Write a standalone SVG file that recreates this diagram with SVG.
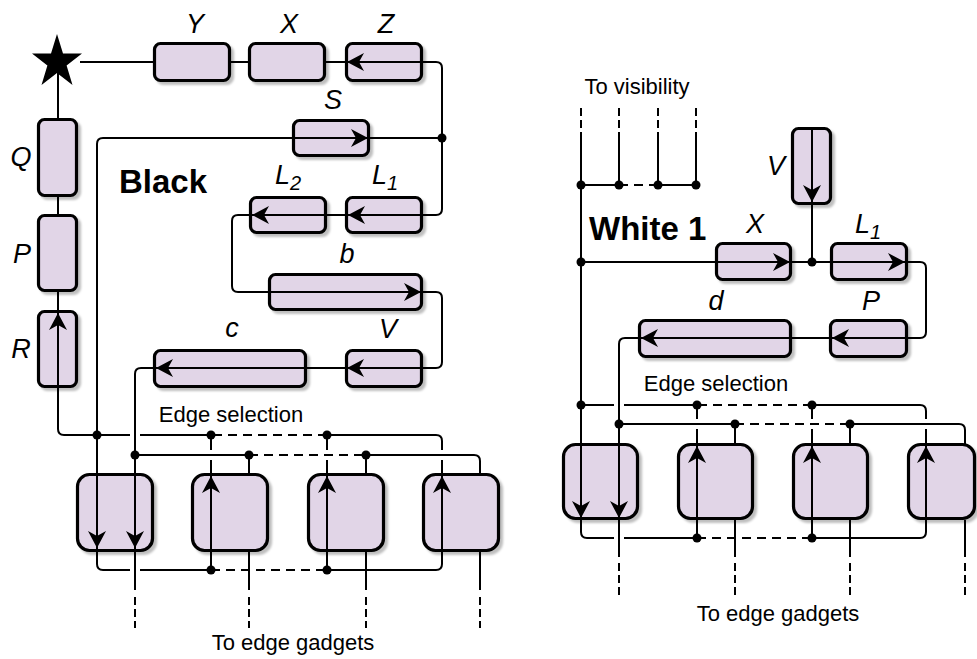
<svg xmlns="http://www.w3.org/2000/svg" width="977" height="659" viewBox="0 0 977 659">
<defs>
<filter id="sh" x="-20%" y="-20%" width="150%" height="150%">
<feDropShadow dx="3" dy="3" stdDeviation="1.2" flood-color="#000" flood-opacity="0.25"/>
</filter>
<path id="ah" d="M0,0 L-17,-9 L-12,0 L-17,9 Z" fill="#000"/>
<circle id="dot" r="4.5" fill="#000"/>
</defs>
<style>
.box{fill:#e1d5e7;stroke:#000;stroke-width:3.2;filter:url(#sh)}
.ln{fill:none;stroke:#000;stroke-width:2}
.dash{fill:none;stroke:#000;stroke-width:2;stroke-dasharray:9 6}
.dsh{fill:none;stroke:#000;stroke-width:2;stroke-dasharray:8 4}
.lbl{font-family:"Liberation Sans",Arial,sans-serif;font-style:italic;font-size:27px;fill:#000}
.txt{font-family:"Liberation Sans",Arial,sans-serif;font-size:22px;fill:#000}
.ttl{font-family:"Liberation Sans",Arial,sans-serif;font-weight:bold;font-size:33px;fill:#000}
</style>
<rect width="977" height="659" fill="#fff"/>

<!-- Left: Black -->
<g id="star"><polygon points="57,34 63,53.5 82,53.5 66.6,65.5 72.5,85 57,73 41.5,85 47.4,65.5 32,53.5 51,53.5" fill="#000"/></g>
<g id="nY"><rect class="box" x="154.5" y="43.5" width="75" height="37" rx="6"/><text class="lbl" x="195" y="33" text-anchor="middle">Y</text></g>
<g id="nX"><rect class="box" x="249.5" y="43.5" width="75" height="37" rx="6"/><text class="lbl" x="289" y="33" text-anchor="middle">X</text></g>
<g id="nZ"><rect class="box" x="346.5" y="43.5" width="75" height="37" rx="6"/><text class="lbl" x="386" y="33" text-anchor="middle">Z</text></g>
<g id="nS"><rect class="box" x="293.5" y="120.5" width="75" height="35" rx="6"/><text class="lbl" x="333" y="109" text-anchor="middle">S</text></g>
<g id="nL2"><rect class="box" x="250.5" y="197.5" width="75" height="35" rx="6"/><text class="lbl" x="275" y="184">L<tspan font-size="20" dy="6">2</tspan></text></g>
<g id="nL1"><rect class="box" x="346.5" y="197.5" width="75" height="35" rx="6"/><text class="lbl" x="372" y="184">L<tspan font-size="20" dy="6">1</tspan></text></g>
<g id="nb"><rect class="box" x="269.5" y="274.5" width="152" height="35" rx="6"/><text class="lbl" x="347" y="263" text-anchor="middle">b</text></g>
<g id="nV"><rect class="box" x="346.5" y="350.5" width="75" height="36" rx="6"/><text class="lbl" x="388" y="338" text-anchor="middle">V</text></g>
<g id="nc"><rect class="box" x="154.5" y="350.5" width="151" height="36" rx="6"/><text class="lbl" x="232" y="337" text-anchor="middle">c</text></g>
<g id="nQ"><rect class="box" x="38.5" y="119.5" width="38" height="76" rx="6"/><text class="lbl" x="21" y="166" text-anchor="middle">Q</text></g>
<g id="nP"><rect class="box" x="38.5" y="215.5" width="38" height="75" rx="6"/><text class="lbl" x="22" y="263" text-anchor="middle">P</text></g>
<g id="nR"><rect class="box" x="38.5" y="311.5" width="38" height="75" rx="6"/><text class="lbl" x="21" y="358" text-anchor="middle">R</text></g>
<g id="nB1"><rect class="box" x="77.5" y="474.5" width="75" height="76" rx="12"/></g>
<g id="nB2"><rect class="box" x="192.5" y="474.5" width="75" height="76" rx="12"/></g>
<g id="nB3"><rect class="box" x="308.5" y="474.5" width="75" height="76" rx="12"/></g>
<g id="nB4"><rect class="box" x="423.5" y="474.5" width="75" height="76" rx="12"/></g>

<!-- Right: White 1 -->
<g id="wX"><rect class="box" x="716.5" y="243.5" width="74" height="36" rx="6"/><text class="lbl" x="755" y="233" text-anchor="middle">X</text></g>
<g id="wL1"><rect class="box" x="831.5" y="243.5" width="75" height="36" rx="6"/><text class="lbl" x="855" y="233">L<tspan font-size="20" dy="6">1</tspan></text></g>
<g id="wV"><rect class="box" x="792.5" y="128.5" width="38" height="75" rx="6"/><text class="lbl" x="776" y="175" text-anchor="middle">V</text></g>
<g id="wd"><rect class="box" x="639.5" y="320.5" width="151" height="36" rx="6"/><text class="lbl" x="716" y="310" text-anchor="middle">d</text></g>
<g id="wP"><rect class="box" x="830.5" y="320.5" width="76" height="36" rx="6"/><text class="lbl" x="871" y="310" text-anchor="middle">P</text></g>
<g id="wB1"><rect class="box" x="563.5" y="444.5" width="74" height="74" rx="12"/></g>
<g id="wB2"><rect class="box" x="678.5" y="444.5" width="74" height="74" rx="12"/></g>
<g id="wB3"><rect class="box" x="793.5" y="444.5" width="74" height="74" rx="12"/></g>
<g id="wB4"><rect class="box" x="908.5" y="444.5" width="66" height="74" rx="12"/></g>

<g id="labels">
<text class="ttl" x="119" y="193">Black</text>
<text class="txt" x="231" y="422" text-anchor="middle">Edge selection</text>
<text class="txt" x="293" y="650" text-anchor="middle">To edge gadgets</text>
<text class="txt" x="637" y="94" text-anchor="middle">To visibility</text>
<text class="ttl" x="589" y="240">White 1</text>
<text class="txt" x="716" y="391" text-anchor="middle">Edge selection</text>
<text class="txt" x="778" y="621" text-anchor="middle">To edge gadgets</text>
</g>

<g id="connectors">
<!-- left top -->
<path class="ln" d="M442,138 L442,68 Q442,62 436,62 L347,62"/>
<path class="ln" d="M345,62 L326,62 M248,62 L231,62 M153,62 L80,62"/>
<path class="ln" d="M442,138 L442,209 Q442,215 436,215 L238,215 Q232,215 232,221 L232,286 Q232,292 238,292 L436,292 Q442,292 442,298 L442,362 Q442,368 436,368 L141,368 Q135,368 135,374 L135,590"/>
<path class="dsh" d="M135,597 L135,628"/>
<path class="ln" d="M442,138 L103,138 Q97,138 97,144 L97,564 Q97,570 103,570 L130,570 M140,570 L211,570"/>
<path class="dash" d="M211,570 L327,570"/>
<path class="ln" d="M327,570 L436,570 Q442,570 442,564 L442,460 M442,450 L442,441 Q442,435 436,435 L327,435"/>
<path class="dash" d="M327,435 L211,435"/>
<path class="ln" d="M211,435 L140,435 M130,435 L64,435 Q58,435 58,429 L58,312 M58,310 L58,292 M58,214 L58,197 M58,118 L58,72"/>
<path class="ln" d="M135,455 L249,455"/>
<path class="dash" d="M249,455 L366,455"/>
<path class="ln" d="M366,455 L474,455 Q480,455 480,461 L480,473 M249,455 L249,473 M366,455 L366,473"/>
<path class="ln" d="M211,435 L211,450 M211,460 L211,570 M327,435 L327,450 M327,460 L327,570"/>
<path class="ln" d="M249,552 L249,590 M366,552 L366,590 M480,552 L480,590"/>
<path class="dsh" d="M249,597 L249,628 M366,597 L366,628 M480,597 L480,628"/>
<use href="#ah" transform="translate(347,62) rotate(180)"/>
<use href="#ah" transform="translate(368,138)"/>
<use href="#ah" transform="translate(348,215) rotate(180)"/>
<use href="#ah" transform="translate(252,215) rotate(180)"/>
<use href="#ah" transform="translate(421,292)"/>
<use href="#ah" transform="translate(347,368) rotate(180)"/>
<use href="#ah" transform="translate(156,368) rotate(180)"/>
<use href="#ah" transform="translate(58,313) rotate(-90)"/>
<use href="#ah" transform="translate(97,548) rotate(90)"/>
<use href="#ah" transform="translate(135,548) rotate(90)"/>
<use href="#ah" transform="translate(211,476) rotate(-90)"/>
<use href="#ah" transform="translate(327,476) rotate(-90)"/>
<use href="#ah" transform="translate(442,476) rotate(-90)"/>
<use href="#dot" x="442" y="138"/>
<use href="#dot" x="97" y="435"/>
<use href="#dot" x="211" y="435"/>
<use href="#dot" x="327" y="435"/>
<use href="#dot" x="135" y="455"/>
<use href="#dot" x="249" y="455"/>
<use href="#dot" x="366" y="455"/>
<use href="#dot" x="211" y="570"/>
<use href="#dot" x="327" y="570"/>

<!-- right -->
<path class="dsh" d="M581,108 L581,140 M619,108 L619,140 M658,108 L658,140 M696,108 L696,140"/>
<path class="ln" d="M619,140 L619,185 M658,140 L658,185 M696,140 L696,185 M581,185 L619,185 M658,185 L696,185"/>
<path class="dash" d="M619,185 L658,185"/>
<path class="ln" d="M581,140 L581,532 Q581,538 587,538 L614,538 M624,538 L697,538"/>
<path class="dash" d="M697,538 L812,538"/>
<path class="ln" d="M812,538 L920,538 Q926,538 926,532 L926,429 M926,419 L926,411 Q926,405 920,405 L812,405"/>
<path class="dash" d="M812,405 L697,405"/>
<path class="ln" d="M697,405 L624,405 M614,405 L581,405"/>
<path class="ln" d="M581,262 L920,262 Q926,262 926,268 L926,332 Q926,338 920,338 L625,338 Q619,338 619,344 L619,557"/>
<path class="dsh" d="M619,563 L619,597"/>
<path class="ln" d="M812,130 L812,262"/>
<path class="ln" d="M619,424 L735,424"/>
<path class="dash" d="M735,424 L850,424"/>
<path class="ln" d="M850,424 L959,424 Q965,424 965,430 L965,444 M735,424 L735,444 M850,424 L850,444"/>
<path class="ln" d="M697,405 L697,419 M697,429 L697,538 M812,405 L812,419 M812,429 L812,538"/>
<path class="ln" d="M735,520 L735,557 M850,520 L850,557 M965,520 L965,557"/>
<path class="dsh" d="M735,563 L735,597 M850,563 L850,597 M965,563 L965,597"/>
<use href="#ah" transform="translate(790,262)"/>
<use href="#ah" transform="translate(905,262)"/>
<use href="#ah" transform="translate(812,202) rotate(90)"/>
<use href="#ah" transform="translate(832,338) rotate(180)"/>
<use href="#ah" transform="translate(641,338) rotate(180)"/>
<use href="#ah" transform="translate(581,518) rotate(90)"/>
<use href="#ah" transform="translate(619,518) rotate(90)"/>
<use href="#ah" transform="translate(697,446) rotate(-90)"/>
<use href="#ah" transform="translate(812,446) rotate(-90)"/>
<use href="#ah" transform="translate(926,446) rotate(-90)"/>
<use href="#dot" x="581" y="185"/>
<use href="#dot" x="619" y="185"/>
<use href="#dot" x="658" y="185"/>
<use href="#dot" x="696" y="185"/>
<use href="#dot" x="581" y="262"/>
<use href="#dot" x="812" y="262"/>
<use href="#dot" x="581" y="405"/>
<use href="#dot" x="697" y="405"/>
<use href="#dot" x="812" y="405"/>
<use href="#dot" x="619" y="424"/>
<use href="#dot" x="735" y="424"/>
<use href="#dot" x="850" y="424"/>
<use href="#dot" x="697" y="538"/>
<use href="#dot" x="812" y="538"/>
</g>
</svg>
